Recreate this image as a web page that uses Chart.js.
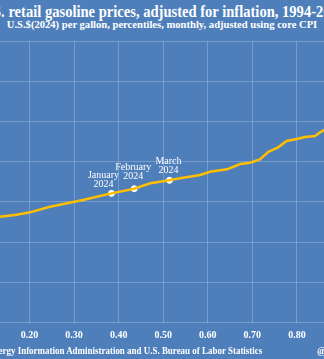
<!DOCTYPE html>
<html>
<head>
<meta charset="utf-8">
<script src="https://cdn.jsdelivr.net/npm/chart.js@4/dist/chart.umd.min.js"></script>
<style>
  html, body { margin: 0; padding: 0; }
  body {
    width: 324px; height: 359px; overflow: hidden; position: relative;
    background: #4f7fbb; font-family: "Liberation Serif", "DejaVu Serif", serif; color: #fff;
  }
  #chart { position: absolute; left: -100px; top: 0; }
  .hd { position: absolute; left: -100px; width: 524px; text-align: center; white-space: nowrap; font-weight: bold; }
  #title { top: 3px; font-size: 16px; transform: scaleX(0.91); }
  #sub { top: 19px; font-size: 10.6px; }
  #src {
    position: absolute; right: 62px; top: 345px; font-size: 10px; font-weight: bold; white-space: nowrap;
    transform: scaleX(0.895); transform-origin: right center;
  }
  #handle { position: absolute; left: 317px; top: 345px; font-size: 10px; font-weight: bold; }
</style>
</head>
<body>
<div class="hd" id="title">U.S. retail gasoline prices, adjusted for inflation, 1994-2024</div>
<div class="hd" id="sub">U.S.$(2024) per gallon, percentiles, monthly, adjusted using core CPI</div>
<canvas id="chart" width="540" height="359"></canvas>
<div id="src">Source: U.S. Energy Information Administration and U.S. Bureau of Labor Statistics</div>
<div id="handle">@</div>
<script>
// percentile of monthly prices (x) and price in 2024 dollars (y)
const pctiles = [0.01, 0.05, 0.10, 0.134, 0.171, 0.201, 0.246, 0.284, 0.320, 0.358, 0.384, 0.435, 0.471, 0.514,
  0.538, 0.583, 0.605, 0.643, 0.673, 0.695, 0.717, 0.736, 0.758, 0.777, 0.800, 0.818, 0.841, 0.852, 0.861,
  0.90, 0.95, 0.99];
const prices = [2.05, 2.40, 2.70, 2.817, 2.842, 2.871, 2.941, 2.983, 3.024, 3.074, 3.107, 3.165, 3.232, 3.269,
  3.294, 3.335, 3.376, 3.406, 3.471, 3.488, 3.530, 3.624, 3.679, 3.757, 3.782, 3.807, 3.819, 3.865, 3.894,
  4.05, 4.40, 4.95];

// highlighted months
const markMonths = ["January", "February", "March"];
const markPct = [0.384, 0.435, 0.514];
const markPrice = [3.107, 3.165, 3.269];

const xTicks = [0, 0.1, 0.2, 0.3, 0.4, 0.5, 0.6, 0.7, 0.8, 0.9, 1.0];

// label placement relative to each dot: [dx, distance of "2024" baseline above dot]
const labelOffsets = [[-8, 6], [-1, 9.5], [-1, 7]];

const labelPlugin = {
  id: "markLabels",
  afterDatasetsDraw(chart) {
    const ctx = chart.ctx;
    const meta = chart.getDatasetMeta(1);
    ctx.save();
    ctx.fillStyle = "#fff";
    ctx.font = "10px 'Liberation Serif'";
    ctx.textAlign = "center";
    ctx.textBaseline = "alphabetic";
    meta.data.forEach((pt, i) => {
      const [dx, up] = labelOffsets[i];
      ctx.fillText(markMonths[i], pt.x + dx, pt.y - up - 9);
      ctx.fillText("2024", pt.x + dx, pt.y - up);
    });
    ctx.restore();
  },
};

new Chart(document.getElementById("chart"), {
  type: "line",
  data: {
    datasets: [
      {
        data: pctiles.map((p, i) => ({ x: p, y: prices[i] })),
        borderColor: "#ffbf00",
        borderWidth: 2.5,
        pointRadius: 0,
        tension: 0,
      },
      {
        data: markPct.map((p, i) => ({ x: p, y: markPrice[i] })),
        showLine: false,
        pointRadius: 3,
        pointBackgroundColor: "#fff",
        pointBorderColor: "#fff",
        pointBorderWidth: 1,
      },
    ],
  },
  options: {
    responsive: false,
    animation: false,
    layout: { padding: { left: 40.4, right: 54, top: 41, bottom: 0 } },
    plugins: { legend: { display: false }, tooltip: { enabled: false } },
    scales: {
      x: {
        type: "linear",
        min: 0,
        max: 1,
        afterBuildTicks: (s) => { s.ticks = xTicks.map((v) => ({ value: v })); },
        afterFit: (s) => { s.height = 36.3; },
        border: { display: false },
        grid: { color: "rgba(255,255,255,0.22)", lineWidth: 1, drawTicks: false },
        ticks: {
          color: "#fff",
          padding: 7,
          font: { family: "Liberation Serif", size: 10, weight: "bold" },
          callback: (v) => v.toFixed(2),
        },
      },
      y: {
        min: 1.5,
        max: 5.0,
        afterFit: (s) => { s.width = 0; },
        border: { display: false },
        grid: { color: "rgba(255,255,255,0.22)", lineWidth: 1, drawTicks: false },
        ticks: { display: false, stepSize: 0.5 },
      },
    },
  },
  plugins: [labelPlugin],
});
</script>
</body>
</html>
